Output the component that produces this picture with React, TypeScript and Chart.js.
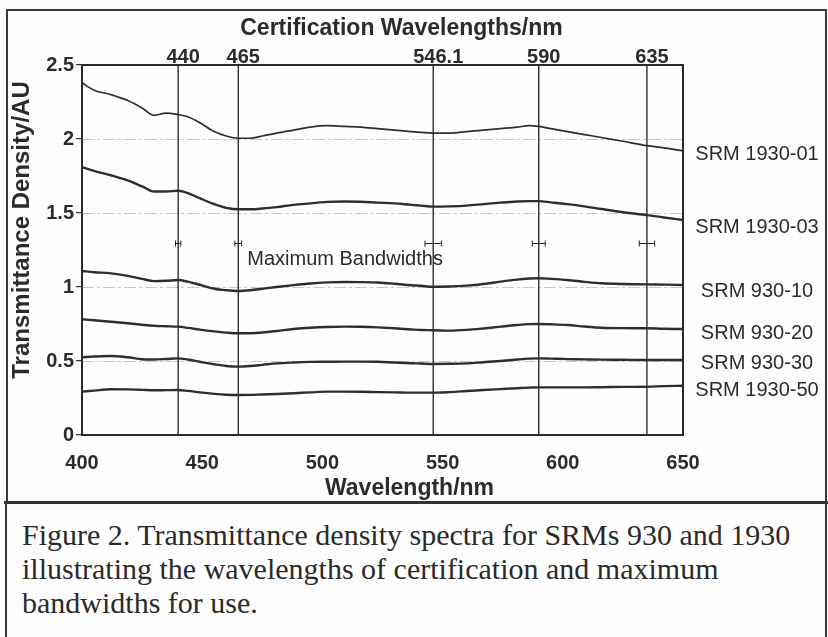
import { useEffect, useRef } from "react";
import { Chart, registerables } from "chart.js";

Chart.register(...registerables);

const wavelengths = [400, 405, 412, 419, 425, 430, 435, 440, 444, 449, 455, 460, 465, 470, 475, 481, 488, 495, 502, 509, 516, 523, 530, 537, 541, 546, 553, 560, 567, 574, 581, 586, 590, 595, 602, 609, 616, 625, 635, 642, 650];

const srm1930_01 = [2.38, 2.33, 2.3, 2.26, 2.21, 2.16, 2.175, 2.165, 2.15, 2.11, 2.05, 2.02, 2.005, 2.005, 2.02, 2.04, 2.06, 2.08, 2.09, 2.085, 2.08, 2.07, 2.06, 2.05, 2.045, 2.04, 2.04, 2.05, 2.06, 2.07, 2.08, 2.09, 2.085, 2.07, 2.05, 2.03, 2.01, 1.985, 1.955, 1.94, 1.92];
const srm1930_03 = [1.81, 1.785, 1.755, 1.72, 1.68, 1.645, 1.645, 1.65, 1.635, 1.6, 1.56, 1.535, 1.525, 1.525, 1.53, 1.54, 1.555, 1.565, 1.575, 1.578, 1.576, 1.57, 1.565, 1.555, 1.55, 1.543, 1.545, 1.55, 1.56, 1.57, 1.578, 1.58, 1.58, 1.572, 1.56, 1.545, 1.527, 1.505, 1.486, 1.47, 1.453];
const srm930_10 = [1.108, 1.1, 1.092, 1.075, 1.055, 1.04, 1.042, 1.047, 1.036, 1.015, 0.988, 0.978, 0.973, 0.978, 0.988, 1.0, 1.013, 1.024, 1.031, 1.034, 1.033, 1.03, 1.022, 1.012, 1.008, 1.002, 1.003, 1.009, 1.02, 1.036, 1.05, 1.057, 1.059, 1.055, 1.047, 1.035, 1.025, 1.02, 1.018, 1.016, 1.014];
const srm930_20 = [0.782, 0.775, 0.765, 0.755, 0.745, 0.738, 0.735, 0.732, 0.724, 0.712, 0.7, 0.692, 0.687, 0.688, 0.693, 0.703, 0.716, 0.725, 0.73, 0.732, 0.731, 0.727, 0.721, 0.713, 0.709, 0.708, 0.705, 0.71, 0.72, 0.732, 0.743, 0.749, 0.75, 0.748, 0.743, 0.733, 0.725, 0.722, 0.721, 0.718, 0.716];
const srm930_30 = [0.525, 0.53, 0.534, 0.525, 0.512, 0.51, 0.514, 0.518, 0.51, 0.495, 0.478, 0.466, 0.462, 0.466, 0.474, 0.484, 0.49, 0.494, 0.495, 0.496, 0.496, 0.495, 0.49, 0.485, 0.483, 0.48, 0.481, 0.484, 0.492, 0.5, 0.51, 0.516, 0.518, 0.516, 0.513, 0.511, 0.509, 0.508, 0.507, 0.507, 0.507];
const srm1930_50 = [0.293, 0.3, 0.309, 0.308, 0.305, 0.302, 0.303, 0.304, 0.298, 0.288, 0.278, 0.272, 0.27, 0.271, 0.274, 0.277, 0.282, 0.288, 0.293, 0.293, 0.292, 0.29, 0.288, 0.286, 0.286, 0.286, 0.29, 0.297, 0.304, 0.31, 0.316, 0.32, 0.322, 0.322, 0.322, 0.322, 0.323, 0.325, 0.326, 0.33, 0.333];

const seriesNames = ["SRM 1930-01", "SRM 1930-03", "SRM 930-10", "SRM 930-20", "SRM 930-30", "SRM 1930-50"];
const seriesValues = [srm1930_01, srm1930_03, srm930_10, srm930_20, srm930_30, srm1930_50];
const seriesLineWidths = [1.7, 2.4, 2.4, 2.4, 2.4, 2.4];
const labelAnchors = [1.892, 1.399, 0.973, 0.689, 0.48, 0.304];

const certWavelengths = [440, 465, 546.1, 590, 635];
const bandHalfWidths = [1.1, 1.4, 3.4, 2.7, 3.2];
const bandLevel = 1.3;
const bandText = "Maximum Bandwidths";

const xTickValues = [400, 450, 500, 550, 600, 650];
const yTickValues = [0, 0.5, 1, 1.5, 2, 2.5];

const topTitle = "Certification Wavelengths/nm";
const xTitle = "Wavelength/nm";
const yTitle = "Transmittance Density/AU";
const captionLines = [
  "Figure 2. Transmittance density spectra for SRMs 930 and 1930",
  "illustrating the wavelengths of certification and maximum",
  "bandwidths for use.",
];

const SANS = "'Liberation Sans', Arial, sans-serif";
const INK = "#2b2b2b";

const overlay = {
  id: "overlay",
  beforeDatasetsDraw(chart: any) {
    const { ctx, chartArea: a, scales } = chart;
    const x = scales.x;
    const y = scales.y;
    ctx.save();
    ctx.strokeStyle = "#c8c8c8";
    ctx.lineWidth = 1;
    ctx.setLineDash([12, 3, 3, 3]);
    yTickValues.forEach((v) => {
      if (v <= 0 || v >= 2.5) return;
      const py = Math.round(y.getPixelForValue(v)) + 0.5;
      ctx.beginPath();
      ctx.moveTo(a.left, py);
      ctx.lineTo(a.right, py);
      ctx.stroke();
    });
    ctx.setLineDash([]);
    ctx.strokeStyle = "#1e1e1e";
    ctx.lineWidth = 1.3;
    certWavelengths.forEach((w) => {
      const px = x.getPixelForValue(w);
      ctx.beginPath();
      ctx.moveTo(px, a.top);
      ctx.lineTo(px, a.bottom);
      ctx.stroke();
    });
    ctx.restore();
  },
  afterDraw(chart: any) {
    const { ctx, chartArea: a, scales } = chart;
    const x = scales.x;
    const y = scales.y;
    ctx.save();
    ctx.strokeStyle = "#2a2a2a";
    ctx.lineWidth = 2;
    ctx.strokeRect(a.left, a.top, a.right - a.left, a.bottom - a.top);
    ctx.strokeStyle = "#222";
    ctx.lineWidth = 1;
    const by = Math.round(y.getPixelForValue(bandLevel)) + 0.5;
    certWavelengths.forEach((w, i) => {
      const x1 = x.getPixelForValue(w - bandHalfWidths[i]);
      const x2 = x.getPixelForValue(w + bandHalfWidths[i]);
      ctx.beginPath();
      ctx.moveTo(x1, by);
      ctx.lineTo(x2, by);
      ctx.moveTo(x1, by - 3);
      ctx.lineTo(x1, by + 3);
      ctx.moveTo(x2, by - 3);
      ctx.lineTo(x2, by + 3);
      ctx.stroke();
    });
    ctx.fillStyle = INK;
    ctx.font = `20px ${SANS}`;
    ctx.textAlign = "left";
    ctx.textBaseline = "middle";
    ctx.fillText(bandText, x.getPixelForValue(certWavelengths[1]) + 9, by + 16);
    ctx.textAlign = "center";
    seriesNames.forEach((n, i) => {
      ctx.fillText(n, a.right + 74, y.getPixelForValue(labelAnchors[i]));
    });
    ctx.font = `bold 23px ${SANS}`;
    ctx.textAlign = "center";
    ctx.fillText(topTitle, (a.left + a.right) / 2 + 19, 29);
    ctx.fillText(xTitle, (a.left + a.right) / 2 + 27, 489);
    ctx.translate(22, (a.top + a.bottom) / 2 - 20);
    ctx.rotate(-Math.PI / 2);
    ctx.font = `bold 24px ${SANS}`;
    ctx.fillText(yTitle, 0, 0);
    ctx.restore();
  },
};

export default function App() {
  const ref = useRef<HTMLCanvasElement>(null);
  useEffect(() => {
    const tickFont = { family: SANS, size: 20, weight: "bold" as const };
    const chart = new Chart(ref.current!, {
      type: "line",
      data: {
        datasets: seriesNames.map((n, i) => ({
          label: n,
          data: wavelengths.map((w, j) => ({ x: w, y: seriesValues[i][j] })),
          borderColor: "#2e2e2e",
          borderWidth: seriesLineWidths[i],
          pointRadius: 0,
          tension: 0.4,
          cubicInterpolationMode: "monotone" as const,
          xAxisID: "x",
          yAxisID: "y",
        })),
      },
      options: {
        animation: false,
        responsive: false,
        events: [],
        layout: { padding: { left: 0, right: 145, top: 0, bottom: 0 } },
        plugins: { legend: { display: false }, tooltip: { enabled: false }, title: { display: false } },
        scales: {
          x: {
            type: "linear",
            position: "bottom",
            min: 400,
            max: 650,
            afterBuildTicks: (s: any) => {
              s.ticks = xTickValues.map((v) => ({ value: v }));
            },
            afterFit: (s: any) => {
              s.height = 65;
            },
            grid: { display: false },
            border: { display: false },
            ticks: { font: tickFont, color: INK, padding: 8, autoSkip: false, maxRotation: 0, callback: (v: any) => String(v) },
          },
          x2: {
            type: "linear",
            position: "top",
            min: 400,
            max: 650,
            afterBuildTicks: (s: any) => {
              s.ticks = certWavelengths.map((v) => ({ value: v }));
            },
            afterFit: (s: any) => {
              s.height = 65;
            },
            grid: { display: false },
            border: { display: false },
            ticks: { font: tickFont, color: INK, padding: -12, labelOffset: 5, autoSkip: false, maxRotation: 0, callback: (v: any) => String(v) },
          },
          y: {
            type: "linear",
            min: 0,
            max: 2.5,
            afterBuildTicks: (s: any) => {
              s.ticks = yTickValues.map((v) => ({ value: v }));
            },
            afterFit: (s: any) => {
              s.width = 82;
            },
            grid: { drawOnChartArea: false, color: "#333", tickLength: 6, lineWidth: 1.2 },
            border: { display: false },
            ticks: { font: tickFont, color: INK, padding: 2, callback: (v: any) => String(v) },
          },
        },
      },
      plugins: [overlay],
    });
    return () => chart.destroy();
  }, []);

  const frame = "#3a3a3a";
  return (
    <div style={{ position: "absolute", left: 0, top: 0, width: 828, height: 637, background: "#fefefe", overflow: "hidden" }}>
      <div style={{ position: "absolute", left: 6, top: 9, width: 821, height: 495, boxSizing: "border-box", borderTop: `2px solid ${frame}`, borderLeft: `2px solid ${frame}`, borderRight: `2px solid ${frame}` }} />
      <div style={{ position: "absolute", left: 4, top: 501, width: 824, height: 3, background: "#333" }} />
      <div style={{ position: "absolute", left: 5, top: 502, width: 822, height: 140, boxSizing: "border-box", borderLeft: `2px solid ${frame}`, borderRight: `2px solid ${frame}` }} />
      <canvas ref={ref} width={828} height={500} style={{ position: "absolute", left: 0, top: 0, width: 828, height: 500, display: "block" }} />
      <div style={{ position: "absolute", left: 22, top: 518, fontFamily: "'Liberation Serif', 'Times New Roman', serif", fontSize: 30, lineHeight: "34px", color: "#2a2a2a", whiteSpace: "nowrap" }}>
        {captionLines.map((l, i) => (
          <div key={i}>{l}</div>
        ))}
      </div>
    </div>
  );
}
